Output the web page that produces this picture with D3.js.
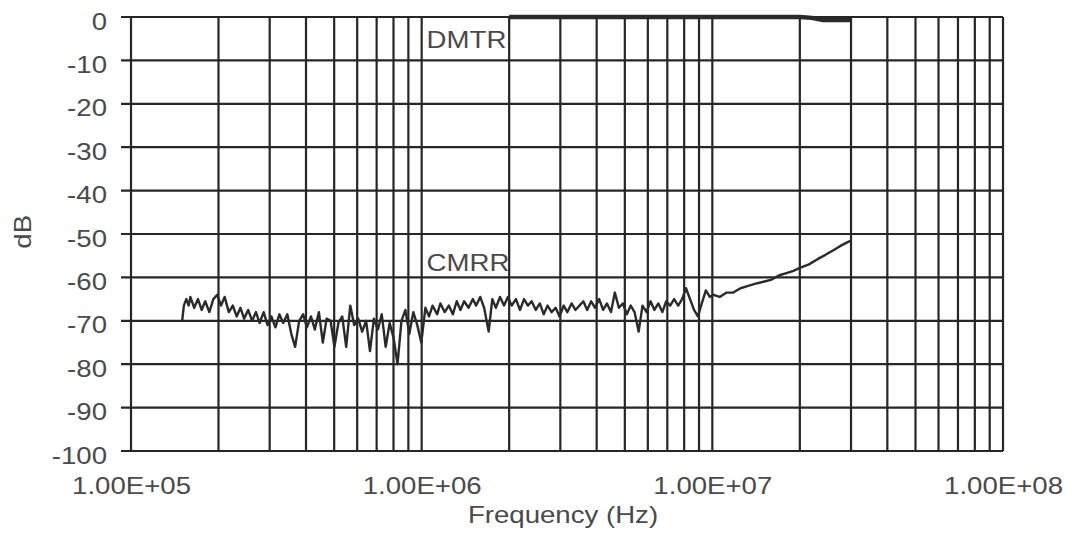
<!DOCTYPE html>
<html lang="en">
<head>
    <meta charset="UTF-8">
    <title>CMRR / DMTR</title>
    <script src="https://cdn.jsdelivr.net/npm/d3@7"></script>
    <style>
        body { margin: 0; background: #fff; }
        text { font-family: "Liberation Sans", Arial, sans-serif; fill: #4a4a4a; }
    </style>
</head>
<body>
    <div class="container"></div>
    <script>
        // tick values
        const yTicks = [0, -10, -20, -30, -40, -50, -60, -70, -80, -90, -100];
        const xTickValues = [1e5, 1e6, 1e7, 1e8];
        const xTickLabels = ["1.00E+05", "1.00E+06", "1.00E+07", "1.00E+08"];

        // DMTR curve (Hz, dB)
        const dmtrFreq = [2.0e6, 5e6, 1e7, 1.5e7, 2.0e7, 2.2e7, 2.4e7, 2.9e7, 3.0e7];
        const dmtrDb   = [0, 0, 0, 0, 0, -0.2, -0.7, -0.7, -0.7];

        // CMRR curve (Hz, dB)
        const cmrrFreq = [
            150e3, 152e3, 155e3, 158e3, 160e3, 165e3, 170e3, 175e3, 180e3, 186e3,
            192e3, 198e3, 204e3, 210e3, 217e3, 224e3, 231e3, 238e3, 245e3, 253e3,
            261e3, 269e3, 277e3, 286e3, 295e3, 304e3, 314e3, 324e3, 334e3, 345e3,
            356e3, 367e3, 379e3, 391e3, 403e3, 416e3, 429e3, 443e3, 457e3, 471e3,
            486e3, 501e3, 517e3, 533e3, 550e3, 568e3, 586e3, 605e3, 624e3, 644e3,
            664e3, 685e3, 707e3, 729e3, 752e3, 776e3, 801e3, 826e3, 852e3, 879e3,
            907e3, 936e3, 966e3, 997e3,
            1.03e6, 1.06e6, 1.09e6, 1.13e6, 1.16e6, 1.20e6, 1.24e6, 1.28e6, 1.32e6, 1.36e6,
            1.40e6, 1.45e6, 1.50e6, 1.54e6, 1.59e6, 1.64e6, 1.70e6, 1.75e6, 1.80e6, 1.86e6,
            1.92e6, 1.98e6, 2.04e6, 2.11e6, 2.18e6, 2.25e6, 2.32e6, 2.39e6, 2.47e6, 2.55e6,
            2.63e6, 2.71e6, 2.80e6, 2.89e6, 2.98e6, 3.08e6, 3.17e6, 3.28e6, 3.38e6, 3.49e6,
            3.60e6, 3.71e6, 3.83e6, 3.95e6, 4.08e6, 4.21e6, 4.34e6, 4.48e6, 4.62e6, 4.77e6,
            4.92e6, 5.08e6, 5.24e6, 5.40e6, 5.58e6, 5.75e6, 5.94e6, 6.13e6, 6.32e6, 6.52e6,
            6.73e6, 6.94e6, 7.16e6, 7.39e6, 7.63e6, 7.87e6, 8.12e6, 8.38e6, 8.65e6, 8.92e6,
            9.20e6, 9.50e6, 9.80e6,
            10.1e6, 10.6e6, 11.2e6, 11.8e6, 12.5e6, 13.2e6, 14.0e6, 15.0e6, 16.0e6, 17.0e6,
            18.0e6, 19.0e6, 20.0e6, 21.5e6, 23.0e6, 24.5e6, 26.0e6, 27.5e6, 29.0e6, 30.0e6
        ];
        const cmrrDb = [
            -70, -66.5, -65, -66.5, -64.5, -67, -65, -67.5, -65.5, -68,
            -65, -64, -66.5, -64.5, -68, -66.5, -69, -67, -69.5, -67.5,
            -70, -68, -70.5, -68, -71, -69, -71.5, -68.5, -70.5, -68.5,
            -73, -76, -70, -68.5, -71.5, -69, -72, -68, -75, -69.5,
            -70, -76, -70.5, -69, -76, -66.5, -71, -69.5, -72.5, -70,
            -77, -69.5, -72, -68.5, -76, -70.5, -74, -80, -70, -67.5,
            -73, -68, -71, -75,
            -67, -69, -66.5, -68.5, -66, -68, -66.5, -68.5, -65.5, -67.5,
            -65.5, -67, -65, -66.5, -64.5, -67, -72.5, -65, -67, -64.5,
            -66.5, -64.5, -66.5, -65, -67.5, -65, -66.5, -65.5, -67.5, -66,
            -68.5, -66.5, -68, -67, -69, -66.5, -68, -66, -67.5, -66.5,
            -65.5, -67.5, -65.5, -67, -65, -67.5, -66, -68, -63.5, -67,
            -66, -68.5, -66.5, -68, -72.5, -66.5, -68, -65.5, -67.5, -66,
            -68, -65.5, -66.5, -65, -66.5, -65, -62.5, -65, -67.5, -69,
            -66, -63, -64.5,
            -64, -64.5, -63.5, -63.5, -62.5, -62, -61.5, -61, -60.5, -59.5,
            -59, -58.5, -57.8, -57, -55.8, -54.8, -53.8, -52.8, -52, -51.5
        ];

        const width = 1067;
        const height = 550;
        const marginTop = 17;
        const marginRight = 64;
        const marginBottom = 99;
        const marginLeft = 131;
        const gridColor = "#262626";
        const textStretch = 1.15; // scanned font is wider than Liberation Sans

        const x = d3.scaleLog()
            .domain([1e5, 1e8])
            .range([marginLeft, width - marginRight]);

        const y = d3.scaleLinear()
            .domain([-100, 0])
            .range([height - marginBottom, marginTop]);

        const svg = d3.create("svg")
            .attr("width", width)
            .attr("height", height)
            .attr("viewBox", [0, 0, width, height]);

        // vertical grid: every 1..9 x decade
        const minorTicks = x.ticks(30);
        svg.append("g")
            .attr("stroke", gridColor)
            .attr("stroke-width", 2.2)
            .selectAll("line")
            .data(minorTicks)
            .join("line")
                .attr("x1", d => x(d))
                .attr("x2", d => x(d))
                .attr("y1", y(0))
                .attr("y2", y(-100));

        // horizontal grid, with short ticks on the left
        svg.append("g")
            .attr("stroke", gridColor)
            .attr("stroke-width", 2.2)
            .selectAll("line")
            .data(yTicks)
            .join("line")
                .attr("x1", marginLeft - 10)
                .attr("x2", width - marginRight)
                .attr("y1", d => y(d))
                .attr("y2", d => y(d));

        // y axis labels (plain hyphen, as in the original)
        const yAxis = d3.axisLeft(y)
            .tickValues(yTicks)
            .tickFormat(d => String(d))
            .tickSize(0)
            .tickPadding(24);
        svg.append("g")
            .attr("transform", `translate(${marginLeft},0)`)
            .call(yAxis)
            .call(g => g.select(".domain").remove())
            .call(g => g.selectAll("text")
                .attr("font-size", 24)
                .attr("dy", "0.5em")
                .attr("font-family", null)
                .attr("fill", null));

        // x axis labels
        const xAxis = d3.axisBottom(x)
            .tickValues(xTickValues)
            .tickFormat((d, i) => xTickLabels[i])
            .tickSize(0)
            .tickPadding(26);
        svg.append("g")
            .attr("transform", `translate(0,${y(-100)})`)
            .call(xAxis)
            .call(g => g.select(".domain").remove())
            .call(g => g.selectAll("text")
                .attr("font-size", 24)
                .attr("font-family", null)
                .attr("fill", null));

        // axis titles
        svg.append("text")
            .attr("x", x(Math.sqrt(1e5 * 1e8)) - 4)
            .attr("y", 523)
            .attr("text-anchor", "middle")
            .attr("font-size", 24)
            .text("Frequency (Hz)");

        svg.append("text")
            .attr("transform", `translate(31,${y(-49.5)}) rotate(-90)`)
            .attr("text-anchor", "middle")
            .attr("font-size", 24)
            .text("dB");

        const line = d3.line()
            .x(d => x(d[0]))
            .y(d => y(d[1]));

        // CMRR
        svg.append("path")
            .datum(d3.zip(cmrrFreq, cmrrDb))
            .attr("fill", "none")
            .attr("stroke", "#2a2a2a")
            .attr("stroke-width", 2.4)
            .attr("stroke-linejoin", "round")
            .attr("d", line);

        // DMTR
        svg.append("path")
            .datum(d3.zip(dmtrFreq, dmtrDb))
            .attr("fill", "none")
            .attr("stroke", "#2a2a2a")
            .attr("stroke-width", 4.5)
            .attr("d", line);

        // series labels
        svg.append("text")
            .attr("x", x(1.04e6))
            .attr("y", 48)
            .attr("font-size", 24)
            .text("DMTR");

        svg.append("text")
            .attr("x", x(1.04e6))
            .attr("y", 271)
            .attr("font-size", 24)
            .text("CMRR");

        document.querySelector(".container").appendChild(svg.node());

        // widen glyphs a bit to match the original lettering
        svg.selectAll("text").each(function () {
            const w = this.getComputedTextLength();
            d3.select(this)
                .attr("textLength", w * textStretch)
                .attr("lengthAdjust", "spacingAndGlyphs");
        });
    </script>
</body>
</html>
